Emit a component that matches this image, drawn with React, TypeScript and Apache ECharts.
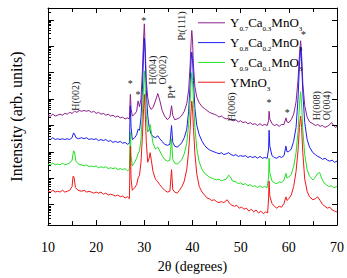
import React, { useEffect, useRef } from "react";
import * as echarts from "echarts";

const FONT = "Liberation Serif";

// 2θ (deg) vs. log10 intensity (arb. units), curves offset for clarity
const y07ca03: [number, number][] = [
  [10, 4.38], [10.5, 4.35], [11, 4.42], [11.5, 4.35], [12, 4.38], [12.5, 4.42], [13, 4.38], [13.5, 4.45],
  [14, 4.42], [14.5, 4.49], [15, 4.45], [15.5, 4.53], [16, 4.49], [16.5, 4.56], [17, 4.53], [17.5, 4.56],
  [18, 4.53], [18.5, 4.56], [19, 4.49], [19.5, 4.53], [20, 4.45], [20.5, 4.49], [21, 4.42], [21.5, 4.45],
  [22, 4.38], [22.5, 4.42], [23, 4.35], [23.5, 4.38], [24, 4.31], [24.5, 4.35], [25, 4.28], [25.5, 4.31],
  [26, 4.24], [26.5, 4.28], [26.9, 4.24], [27.0, 4.74], [27.1, 5.17], [27.25, 4.63], [27.5, 4.35], [28, 4.42],
  [28.4, 4.53], [28.7, 4.92], [29.0, 4.7], [29.3, 4.99], [29.6, 6.06], [29.85, 7.3], [30.0, 7.84], [30.15, 7.12],
  [30.4, 5.7], [30.7, 5.06], [31.0, 4.74], [31.4, 4.6], [31.8, 4.67], [32.3, 4.92], [32.8, 5.2], [33.2, 4.95],
  [33.7, 4.56], [34.2, 4.35], [34.8, 4.21], [35.3, 4.31], [35.65, 4.74], [35.9, 4.38], [36.3, 4.21], [36.8, 4.24],
  [37.3, 4.28], [37.8, 4.38], [38.3, 4.53], [38.8, 4.81], [39.2, 5.34], [39.5, 6.24], [39.7, 7.12], [39.85, 7.59],
  [40.0, 7.23], [40.2, 6.24], [40.5, 5.45], [40.9, 5.06], [41.4, 4.85], [42, 4.7], [42.5, 4.63], [43, 4.56],
  [43.5, 4.49], [44, 4.45], [44.5, 4.42], [45, 4.38], [45.5, 4.31], [46, 4.35], [46.5, 4.28], [47, 4.24],
  [47.5, 4.28], [48, 4.21], [48.5, 4.17], [49, 4.21], [49.5, 4.13], [50, 4.17], [50.5, 4.1], [51, 4.13],
  [51.5, 4.06], [52, 4.1], [52.5, 4.03], [53, 4.06], [53.5, 3.99], [54, 4.06], [54.5, 3.99], [55, 4.03],
  [55.5, 3.99], [55.8, 4.17], [55.9, 4.53], [56.05, 4.24], [56.5, 4.06], [57, 3.99], [57.5, 4.03], [58, 3.96],
  [58.5, 4.03], [59, 4.03], [59.4, 4.28], [59.6, 4.13], [60, 4.1], [60.5, 4.21], [61, 4.42], [61.5, 4.88],
  [61.9, 5.7], [62.2, 6.66], [62.45, 7.2], [62.65, 6.66], [62.9, 5.59], [63.3, 4.74], [63.8, 4.31], [64.3, 4.13],
  [65, 4.06], [65.5, 3.99], [66, 4.03], [66.5, 3.96], [67, 3.99], [67.5, 3.92], [68, 3.96], [68.5, 4.03],
  [68.9, 4.1], [69.3, 3.99], [69.7, 3.92], [70, 3.96],
];

const y08ca02: [number, number][] = [
  [10, 3.49], [10.5, 3.46], [11, 3.53], [11.5, 3.46], [12, 3.49], [12.5, 3.46], [13, 3.49], [13.5, 3.46],
  [14, 3.49], [14.5, 3.46], [15, 3.53], [15.3, 3.71], [15.5, 3.67], [15.8, 3.53], [16.3, 3.49], [17, 3.53],
  [17.5, 3.49], [18, 3.53], [18.5, 3.46], [19, 3.49], [19.5, 3.46], [20, 3.49], [20.5, 3.42], [21, 3.46],
  [21.5, 3.42], [22, 3.46], [22.5, 3.39], [23, 3.42], [23.5, 3.35], [24, 3.39], [24.5, 3.35], [25, 3.39],
  [25.5, 3.32], [26, 3.35], [26.5, 3.28], [26.9, 3.32], [27.0, 4.1], [27.1, 4.74], [27.25, 3.92], [27.5, 3.46],
  [28, 3.53], [28.4, 3.64], [28.7, 3.85], [29.0, 3.81], [29.3, 4.28], [29.6, 5.34], [29.85, 6.77], [30.0, 7.3],
  [30.15, 6.77], [30.4, 5.34], [30.7, 4.38], [31.0, 3.92], [31.4, 3.67], [31.8, 3.57], [32.3, 3.53], [32.8, 3.6],
  [33.2, 3.49], [33.7, 3.39], [34.2, 3.28], [34.8, 3.24], [35.3, 3.28], [35.65, 3.99], [35.9, 3.35], [36.3, 3.21],
  [36.8, 3.17], [37.3, 3.24], [37.8, 3.35], [38.3, 3.53], [38.8, 3.85], [39.2, 4.53], [39.5, 5.52], [39.7, 6.41],
  [39.85, 6.77], [40.0, 6.52], [40.2, 5.7], [40.5, 4.63], [40.9, 3.99], [41.4, 3.64], [42, 3.39], [42.5, 3.24],
  [43, 3.14], [43.5, 3.07], [44, 3.03], [44.5, 2.99], [45, 2.96], [45.5, 2.92], [46, 2.96], [46.5, 2.89],
  [47, 2.92], [47.5, 2.96], [48, 2.89], [48.5, 2.85], [49, 2.89], [49.5, 2.82], [50, 2.85], [50.5, 2.82],
  [51, 2.85], [51.5, 2.78], [52, 2.82], [52.5, 2.78], [53, 2.82], [53.5, 2.75], [54, 2.82], [54.5, 2.75],
  [55, 2.78], [55.5, 2.75], [55.8, 3.1], [55.9, 3.81], [56.05, 3.21], [56.5, 2.85], [57, 2.78], [57.5, 2.75],
  [58, 2.82], [58.5, 2.78], [59, 2.85], [59.4, 3.21], [59.6, 3.0], [60, 3.0], [60.5, 3.1], [61, 3.39],
  [61.5, 3.92], [61.9, 4.99], [62.2, 6.24], [62.45, 6.95], [62.65, 6.41], [62.9, 5.24], [63.3, 4.1], [63.8, 3.46],
  [64.3, 3.17], [65, 2.96], [65.5, 2.89], [66, 2.82], [66.5, 2.78], [67, 2.71], [67.5, 2.75], [68, 2.68],
  [68.5, 2.64], [69, 2.68], [69.5, 2.6], [70, 2.64],
];

const y09ca01: [number, number][] = [
  [10, 2.53], [10.5, 2.5], [11, 2.57], [11.5, 2.5], [12, 2.53], [12.5, 2.5], [13, 2.57], [13.5, 2.5],
  [14, 2.53], [14.5, 2.57], [15, 2.68], [15.3, 3.03], [15.5, 3.0], [15.8, 2.64], [16.3, 2.53], [17, 2.5],
  [17.5, 2.46], [18, 2.5], [18.5, 2.43], [19, 2.46], [19.5, 2.43], [20, 2.46], [20.5, 2.39], [21, 2.43],
  [21.5, 2.39], [22, 2.43], [22.5, 2.36], [23, 2.39], [23.5, 2.36], [24, 2.39], [24.5, 2.32], [25, 2.36],
  [25.5, 2.32], [26, 2.36], [26.5, 2.28], [26.9, 2.32], [27.0, 3.03], [27.1, 3.74], [27.25, 2.85], [27.5, 2.46],
  [28, 2.6], [28.4, 2.75], [28.7, 2.92], [29.0, 3.03], [29.3, 3.46], [29.6, 4.46], [29.85, 5.52], [30.0, 6.06],
  [30.15, 5.52], [30.4, 4.38], [30.7, 3.74], [31.0, 3.85], [31.2, 4.03], [31.45, 3.74], [31.8, 3.32], [32.3, 3.1],
  [32.8, 3.17], [33.2, 3.03], [33.7, 2.85], [34.2, 2.71], [34.8, 2.64], [35.3, 2.68], [35.65, 3.49], [35.9, 2.71],
  [36.3, 2.57], [36.8, 2.53], [37.3, 2.6], [37.8, 2.71], [38.3, 2.92], [38.8, 3.32], [39.2, 4.03], [39.5, 4.88],
  [39.7, 5.59], [39.85, 5.99], [40.0, 5.7], [40.2, 4.99], [40.5, 3.92], [40.9, 3.1], [41.4, 2.6], [42, 2.32],
  [42.5, 2.18], [43, 2.11], [43.5, 2.04], [44, 2.0], [44.5, 1.96], [45, 1.93], [45.5, 1.96], [46, 1.89],
  [46.5, 1.93], [47, 1.96], [47.5, 2.11], [47.9, 2.04], [48.3, 1.89], [49, 1.86], [49.5, 1.79], [50, 1.82],
  [50.5, 1.75], [51, 1.79], [51.5, 1.71], [52, 1.75], [52.5, 1.68], [53, 1.71], [53.5, 1.64], [54, 1.71],
  [54.5, 1.64], [55, 1.68], [55.5, 1.64], [55.8, 2.04], [55.9, 2.75], [56.05, 2.21], [56.5, 1.89], [57, 1.82],
  [57.5, 1.79], [58, 1.86], [58.5, 1.82], [59, 1.93], [59.4, 2.18], [59.6, 2.0], [60, 2.04], [60.5, 2.14],
  [61, 2.43], [61.5, 2.96], [61.9, 3.74], [62.2, 4.74], [62.45, 5.27], [62.65, 4.81], [62.9, 3.81], [63.3, 2.89],
  [63.8, 2.32], [64.3, 2.07], [65, 1.93], [65.5, 2.04], [66, 2.18], [66.4, 2.21], [66.8, 2.0], [67.3, 1.82],
  [67.8, 1.75], [68.3, 1.68], [68.8, 1.71], [69.3, 1.64], [70, 1.68],
];

const ymno3: [number, number][] = [
  [10, 1.5], [10.5, 1.47], [11, 1.54], [11.5, 1.47], [12, 1.5], [12.5, 1.47], [13, 1.54], [13.5, 1.47],
  [14, 1.5], [14.5, 1.54], [15, 1.68], [15.2, 2.07], [15.4, 2.04], [15.7, 1.64], [16.2, 1.54], [17, 1.5],
  [17.5, 1.54], [18, 1.47], [18.5, 1.5], [19, 1.47], [19.5, 1.43], [20, 1.47], [20.5, 1.43], [21, 1.47],
  [21.5, 1.39], [22, 1.43], [22.5, 1.36], [23, 1.39], [23.5, 1.36], [24, 1.32], [24.5, 1.36], [25, 1.29],
  [25.5, 1.32], [26, 1.25], [26.5, 1.29], [26.9, 1.22], [27.0, 2.32], [27.1, 3.21], [27.25, 1.96], [27.5, 1.54],
  [28, 1.64], [28.4, 1.75], [28.7, 2.0], [29.0, 2.11], [29.3, 2.6], [29.6, 3.57], [29.85, 4.63], [30.0, 5.17],
  [30.15, 4.63], [30.4, 3.39], [30.7, 2.6], [31.0, 2.75], [31.2, 2.96], [31.45, 2.68], [31.8, 2.25], [32.3, 1.96],
  [32.8, 1.86], [33.2, 1.75], [33.7, 1.64], [34.2, 1.54], [34.8, 1.47], [35.3, 1.5], [35.65, 2.32], [35.9, 1.57],
  [36.3, 1.47], [36.8, 1.43], [37.3, 1.54], [37.8, 1.68], [38.3, 1.89], [38.8, 2.32], [39.2, 3.03], [39.5, 3.81],
  [39.7, 4.53], [39.85, 4.92], [40.0, 4.63], [40.2, 3.92], [40.5, 2.92], [40.9, 2.14], [41.4, 1.68], [42, 1.47],
  [42.5, 1.36], [43, 1.25], [43.5, 1.22], [44, 1.15], [44.5, 1.18], [45, 1.11], [45.5, 1.07], [46, 1.11],
  [46.5, 1.07], [47.2, 1.18], [47.7, 1.04], [48.2, 0.97], [48.7, 0.93], [49.2, 0.97], [49.7, 0.86], [50.2, 0.9],
  [50.7, 0.82], [51.2, 0.86], [51.7, 0.75], [52.2, 0.82], [52.7, 0.72], [53.2, 0.79], [53.7, 0.68], [54.2, 0.75],
  [54.7, 0.65], [55.2, 0.72], [55.6, 0.68], [55.8, 1.25], [55.9, 1.89], [56.05, 1.32], [56.5, 1.04], [57, 0.93],
  [57.5, 0.86], [58, 0.93], [58.5, 0.9], [59, 1.04], [59.4, 1.29], [59.6, 1.15], [60, 1.22], [60.5, 1.36],
  [61, 1.68], [61.5, 2.25], [61.9, 3.03], [62.2, 3.92], [62.45, 4.35], [62.65, 3.92], [62.9, 2.96], [63.3, 1.96],
  [63.8, 1.5], [64.3, 1.29], [65, 1.18], [65.5, 1.22], [66, 1.29], [66.5, 1.15], [67, 1.0], [67.5, 0.93],
  [68, 0.86], [68.5, 0.9], [69, 0.79], [69.5, 0.75], [70, 0.72],
];

const seriesNames = ["Y0.7Ca0.3MnO3", "Y0.8Ca0.2MnO3", "Y0.9Ca0.1MnO3", "YMnO3"];
const seriesData = [y07ca03, y08ca02, y09ca01, ymno3];
const seriesColors = ["#8e1f8e", "#1c1cf0", "#22e022", "#f01818"];

// legend text split into normal / subscript runs
const legendParts: Record<string, [string, string][]> = {
  "Y0.7Ca0.3MnO3": [["n", "Y"], ["s", "0.7"], ["n", "Ca"], ["s", "0.3"], ["n", "MnO"], ["s", "3"]],
  "Y0.8Ca0.2MnO3": [["n", "Y"], ["s", "0.8"], ["n", "Ca"], ["s", "0.2"], ["n", "MnO"], ["s", "3"]],
  "Y0.9Ca0.1MnO3": [["n", "Y"], ["s", "0.9"], ["n", "Ca"], ["s", "0.1"], ["n", "MnO"], ["s", "3"]],
  YMnO3: [["n", "YMnO"], ["s", "3"]],
};

const xMin = 10;
const xMax = 70;
const xStep = 10;
const yMin = 0.22;
const yMax = 8.44;
const decades = [0, 1, 2, 3, 4, 5, 6, 7, 8];

// peak assignments: [2θ, log intensity, text, vertical]
const peakLabels: [number, number, string, boolean][] = [
  [15.76, 5.1, "H(002)", true],
  [27.09, 5.6, "*", false],
  [28.68, 5.18, "*", false],
  [29.87, 7.98, "*", false],
  [32.65, 6.09, "H(004)\nO(002)", true],
  [35.63, 5.27, "Pt*", true],
  [37.82, 7.76, "Pt(111)", true],
  [48.15, 4.7, "H(006)", true],
  [55.9, 4.86, "*", false],
  [59.67, 4.5, "*", false],
  [63.05, 7.43, "*", false],
  [66.82, 4.74, "H(008)\nO(004)", true],
];

// log-decade tick marks along the intensity axis
const yTicks: [number, number, number][] = [];
decades.forEach((d) => {
  if (d >= yMin && d <= yMax) yTicks.push([xMin, d, 1]);
  for (let k = 2; k <= 9; k++) {
    const v = d + Math.log10(k);
    if (v >= yMin && v <= yMax) yTicks.push([xMin, v, 0]);
  }
});

export default function App() {
  const ref = useRef<HTMLDivElement>(null);

  useEffect(() => {
    if (!ref.current) return;
    const chart = echarts.init(ref.current, undefined, { renderer: "svg" });

    const axisLine = { show: true, lineStyle: { color: "#000", width: 1 } };

    const lineSeries = seriesNames.map((name, i) => ({
      name,
      type: "line",
      data: seriesData[i],
      symbol: "none",
      showSymbol: false,
      lineStyle: { color: seriesColors[i], width: 1 },
      itemStyle: { color: seriesColors[i] },
      z: 2,
    }));

    chart.setOption({
      animation: false,
      backgroundColor: "#fff",
      textStyle: { fontFamily: FONT },
      grid: { left: 41, right: 4, top: 8, bottom: 39, containLabel: false },
      legend: {
        orient: "vertical",
        left: 198,
        top: 13,
        padding: 0,
        itemGap: 0,
        itemWidth: 27,
        itemHeight: 1,
        icon: "rect",
        data: seriesNames,
        formatter: (name: string) =>
          (legendParts[name] || [["n", name]]).map(([k, t]) => `{${k}|${t}}`).join(""),
        textStyle: {
          fontFamily: FONT,
          color: "#000",
          rich: {
            n: { fontFamily: FONT, fontSize: 13, lineHeight: 19.6, color: "#000" },
            s: {
              fontFamily: FONT,
              fontSize: 7,
              lineHeight: 7,
              color: "#000",
              verticalAlign: "top",
              padding: [12.8, 0, 0, 0],
            },
          },
        },
      },
      xAxis: [
        {
          type: "value",
          position: "bottom",
          min: xMin,
          max: xMax,
          interval: xStep,
          axisLine,
          axisTick: { show: true, inside: true, length: 5, lineStyle: { color: "#000" } },
          minorTick: { show: true, splitNumber: 2, length: 4, lineStyle: { color: "#000" } },
          splitLine: { show: false },
          axisLabel: { fontFamily: FONT, fontSize: 14, color: "#000", margin: 15 },
          name: "2θ (degrees)",
          nameLocation: "middle",
          nameGap: 33,
          nameTextStyle: { fontFamily: FONT, fontSize: 14, color: "#000" },
        },
        {
          type: "value",
          position: "top",
          min: xMin,
          max: xMax,
          interval: xStep,
          axisLine,
          axisTick: { show: true, inside: true, length: 5, lineStyle: { color: "#000" } },
          minorTick: { show: true, splitNumber: 2, length: 4, lineStyle: { color: "#000" } },
          splitLine: { show: false },
          axisLabel: { show: false },
        },
      ],
      yAxis: [
        {
          type: "value",
          position: "left",
          min: yMin,
          max: yMax,
          axisLine,
          axisTick: { show: false },
          splitLine: { show: false },
          axisLabel: { show: false },
          name: "Intensity (arb. units)",
          nameLocation: "middle",
          nameGap: 24,
          nameTextStyle: { fontFamily: FONT, fontSize: 16, color: "#000" },
        },
        {
          type: "value",
          position: "right",
          min: yMin,
          max: yMax,
          axisLine,
          axisTick: { show: false },
          splitLine: { show: false },
          axisLabel: { show: false },
        },
      ],
      series: [
        ...lineSeries,
        {
          type: "custom",
          name: "yTicks",
          silent: true,
          data: yTicks,
          encode: { x: 0, y: 1 },
          clip: false,
          z: 5,
          renderItem: (_params: any, api: any) => {
            const v = api.value(1);
            const major = api.value(2) === 1;
            const l = api.coord([xMin, v]);
            const r = api.coord([xMax, v]);
            const y = Math.round(l[1]) + 0.5;
            const children: any[] = [
              {
                type: "line",
                shape: { x1: l[0], y1: y, x2: l[0] + (major ? 6 : 3), y2: y },
                style: { stroke: "#000", lineWidth: 1 },
              },
            ];
            if (major) {
              children.push({
                type: "line",
                shape: { x1: r[0], y1: y, x2: r[0] - 5, y2: y },
                style: { stroke: "#000", lineWidth: 1 },
              });
            }
            return { type: "group", children };
          },
        },
        {
          type: "custom",
          name: "peakLabels",
          silent: true,
          data: peakLabels.map((p) => [p[0], p[1]]),
          encode: { x: 0, y: 1 },
          clip: false,
          z: 6,
          renderItem: (params: any, api: any) => {
            const p = api.coord([api.value(0), api.value(1)]);
            const lab = peakLabels[params.dataIndex];
            return {
              type: "text",
              x: p[0],
              y: p[1],
              rotation: lab[3] ? Math.PI / 2 : 0,
              style: {
                text: lab[2],
                fontFamily: FONT,
                fontSize: 10,
                lineHeight: 10,
                fill: "#222",
                align: "center",
                verticalAlign: "middle",
              },
            };
          },
        },
      ],
    });

    return () => chart.dispose();
  }, []);

  return (
    <div
      ref={ref}
      style={{ position: "fixed", left: 0, top: 0, width: 347, height: 278, background: "#fff" }}
    />
  );
}
